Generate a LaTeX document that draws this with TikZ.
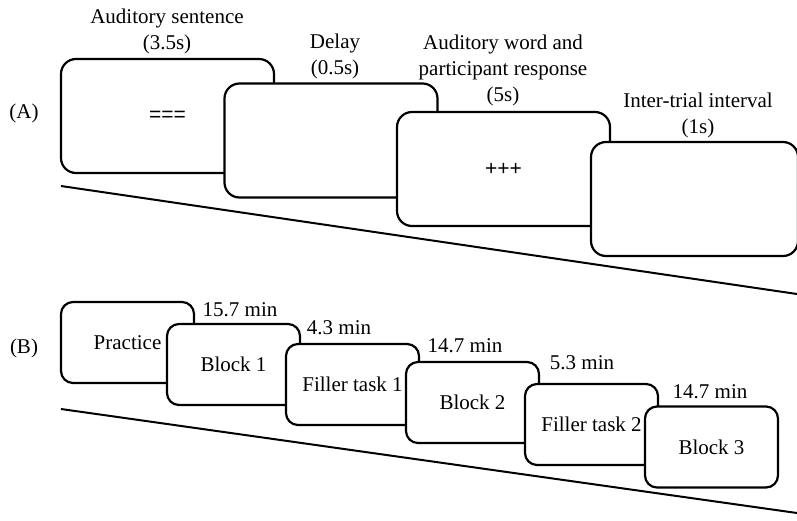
\documentclass[tikz,border=0pt]{standalone}
\usepackage{fontspec}
\setmainfont{Liberation Serif}
\newfontfamily\symfont{Liberation Sans}
\begin{document}
\begin{tikzpicture}[x=1pt,y=-1pt,
  screen/.style={draw, line width=2.2pt, fill=white, rounded corners=15pt,
    inner sep=0pt, minimum width=213pt, minimum height=114pt},
  phase/.style={draw, line width=2.2pt, fill=white, rounded corners=12pt,
    inner sep=0pt, minimum width=133pt, minimum height=81pt,
    font=\fontsize{21}{24}\selectfont},
  lbl/.style={align=center, inner sep=0pt, font=\fontsize{21}{26}\selectfont},
  glyphs/.style={font=\symfont\fontsize{21}{24}\selectfont},
  timeline/.style={line width=2pt}]
\useasboundingbox (0,0) rectangle (797,520);

% ---------- (A) trial sequence ----------
\node[lbl] (tagA) at (24,113) {(A)};
\coordinate (a0) at (61,186);
\coordinate (a1) at (797,294);
\draw[timeline] (a0) -- (a1);

\node[screen] (s1) at (167.5,116) {};
\node[screen] (s2) at (331,140.5) {};
\node[screen] (s3) at (503.5,169) {};
\node[screen, minimum width=207pt] (s4) at (694.5,199) {};
\node[glyphs] (eq) at (s1.center) {===};
\node[glyphs] (plus) at (s3.center) {+++};

\node[lbl] (l1) at (167,31.5) {Auditory sentence\\(3.5s)};
\node[lbl] (l2) at (335,56) {Delay\\(0.5s)};
\node[lbl] (l3) at (503,70) {Auditory word and\\participant response\\(5s)};
\node[lbl] (l4) at (698,115.5) {Inter-trial interval\\(1s)};

% ---------- (B) session sequence ----------
\node[lbl] (tagB) at (24,348) {(B)};
\coordinate (b0) at (61,409);
\coordinate (b1) at (797,513);
\draw[timeline] (b0) -- (b1);

\node[phase] (p0) at (127.5,342.5) {Practice};
\node[phase] (p1) at (233.5,364.5) {Block 1};
\node[phase] (p2) at (352.5,384.5) {Filler task 1};
\node[phase] (p3) at (472.5,402.5) {Block 2};
\node[phase] (p4) at (591.5,424.5) {Filler task 2};
\node[phase] (p5) at (711.5,447) {Block 3};

\node[lbl] (d1) at (240,310) {15.7 min};
\node[lbl] (d2) at (339,328) {4.3 min};
\node[lbl] (d3) at (465,346) {14.7 min};
\node[lbl] (d4) at (582,363) {5.3 min};
\node[lbl] (d5) at (710,392) {14.7 min};
\end{tikzpicture}
\end{document}
